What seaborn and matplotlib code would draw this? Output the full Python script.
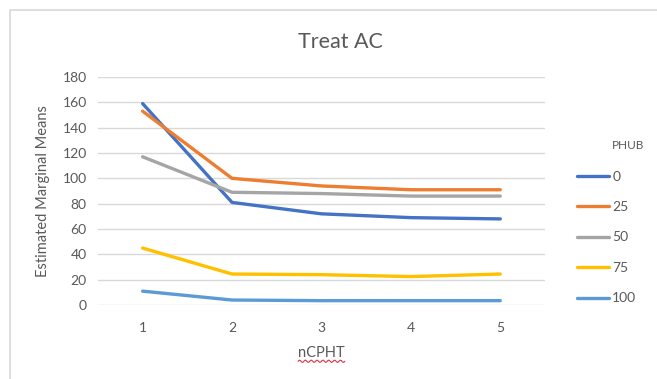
import numpy as np
import pandas as pd
import seaborn as sns
import matplotlib
matplotlib.use("Agg")
import matplotlib.pyplot as plt
from matplotlib.lines import Line2D

# Estimated marginal means by nCPHT level, one series per PHUB level
ncpht = [1, 2, 3, 4, 5]
phub_levels = ["0", "25", "50", "75", "100"]
phub_0 = [159, 81, 72, 69, 68]
phub_25 = [153, 100, 94, 91, 91]
phub_50 = [117, 89, 88, 86, 86]
phub_75 = [45, 24.5, 24, 22.5, 24.5]
phub_100 = [11, 4, 3.5, 3.5, 3.5]

title = "Treat AC"
x_label = "nCPHT"
y_label = "Estimated Marginal Means"
legend_title = "PHUB"
y_ticks = [0, 20, 40, 60, 80, 100, 120, 140, 160, 180]

colors = ["#4472C4", "#ED7D31", "#A5A5A5", "#FFC000", "#5B9BD5"]

series = [phub_0, phub_25, phub_50, phub_75, phub_100]
df = pd.DataFrame({
    "nCPHT": np.tile(ncpht, len(phub_levels)),
    "PHUB": np.repeat(phub_levels, len(ncpht)),
    "EMM": np.concatenate(series),
})

sns.set_theme(style="white")
plt.rcParams["font.family"] = ["Lato", "DejaVu Sans"]
text_gray = "#595959"

fig = plt.figure(figsize=(6.57, 3.79), dpi=100)
ax = fig.add_axes([0.149, 0.195, 0.6805, 0.602])

sns.lineplot(data=df, x="nCPHT", y="EMM", hue="PHUB", hue_order=phub_levels,
             palette=colors, linewidth=2.4, ax=ax, legend=False, sort=False)

ax.set_xlim(0.5, 5.5)
ax.set_ylim(0, 180)
ax.set_xticks(ncpht)
ax.set_yticks(y_ticks)
ax.grid(axis="y", color="#D9D9D9", linewidth=1.0)
ax.set_axisbelow(True)
for s in ax.spines.values():
    s.set_visible(False)
ax.tick_params(axis="both", length=0, labelsize=10, labelcolor=text_gray, pad=8)
ax.tick_params(axis="x", pad=12)

ax.set_xlabel(x_label, fontsize=10.5, color=text_gray, labelpad=9)
ax.set_ylabel(y_label, fontsize=10.5, color=text_gray, labelpad=9)
fig.text(0.5175, 0.889, title, fontsize=15.5, color=text_gray,
         ha="center", va="center")

# Legend with a separate title placed over the labels
handles = [Line2D([0], [0], color=c, linewidth=2.4) for c in colors]
fig.legend(handles, phub_levels, loc="upper left",
           bbox_to_anchor=(0.878, 0.550), frameon=False, fontsize=10,
           labelcolor=text_gray, handlelength=2.3, handletextpad=0.25,
           labelspacing=1.33, borderpad=0, borderaxespad=0)
fig.text(0.932, 0.617, legend_title, fontsize=8.5, color=text_gray,
         ha="left", va="center")

# Outer chart frame (top and left edges)
fig.add_artist(Line2D([0.0145, 0.0145, 1.0], [0.0, 0.973, 0.973],
                      transform=fig.transFigure, color="#D9D9D9",
                      linewidth=1.2))

# Wavy underline under the x-axis label
fig.canvas.draw()
bb = ax.xaxis.label.get_window_extent()
xs = np.linspace(bb.x0, bb.x1, 40)
ys = bb.y0 - 1.0 + 1.2 * np.sin(np.linspace(0, 8 * 2 * np.pi, 40))
inv = fig.transFigure.inverted()
pts = inv.transform(np.column_stack([xs, ys]))
fig.add_artist(Line2D(pts[:, 0], pts[:, 1], transform=fig.transFigure,
                      color="#E0314B", linewidth=0.8))

fig.savefig("out.png", dpi=100, facecolor="white")
